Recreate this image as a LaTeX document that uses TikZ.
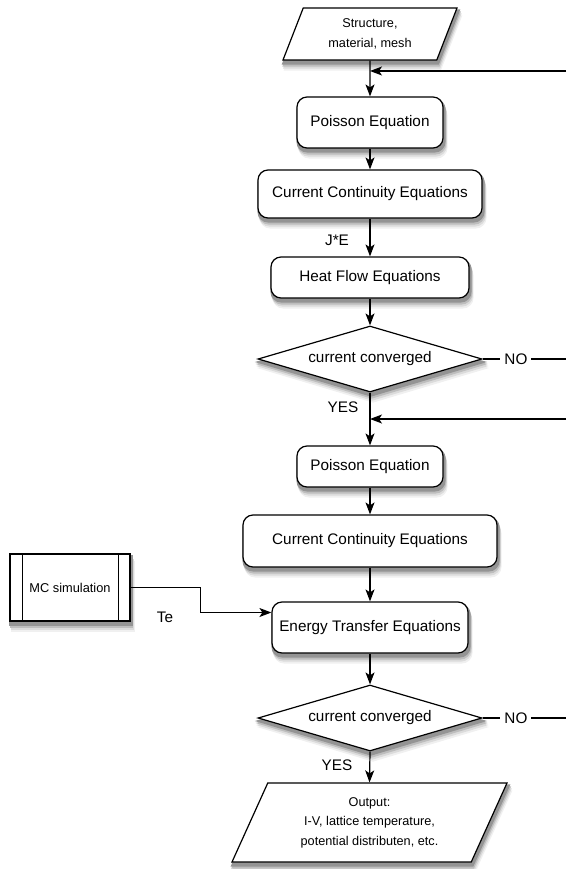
\documentclass[tikz,border=0pt]{standalone}
\usepackage{fontspec}
\setmainfont{Liberation Sans}
\usetikzlibrary{shapes.geometric,arrows.meta,backgrounds}
\tikzset
{
    process/.style  = {rectangle, rounded corners=10pt, draw=black, line width=1.2pt, fill=white, align=center, font=\fontsize{15.3}{18}\selectfont},
    decision/.style = {diamond, aspect=3.4, draw=black, line width=1.2pt, fill=white, inner sep=0pt, minimum width=224pt, minimum height=66pt, font=\fontsize{15.3}{18}\selectfont},
    io/.style       = {trapezium, trapezium stretches body, draw=black, line width=1.2pt, fill=white, align=center, inner sep=0pt, font=\fontsize{12.7}{19.5}\selectfont},
    sim/.style      = {rectangle, draw=black, line width=1.2pt, fill=white, minimum width=120pt, minimum height=67pt, font=\fontsize{12.8}{15}\selectfont},
    lbl/.style      = {inner sep=4pt, font=\fontsize{15.3}{18}\selectfont},
    flow/.style     = {line width=1.2pt, -{Stealth[length=12pt, width=9pt, inset=3pt]}},
    shadowfill/.style = {fill=black!#1, draw=black!#1, line width=2pt}
}
\begin{document}
\begin{tikzpicture}[x=1pt, y=-1pt]
\useasboundingbox (0,0) rectangle (566,869);
\node [io, trapezium left angle=56, trapezium right angle=124, minimum width=174pt, minimum height=52pt] at (370,34) (inp) {Structure,\\material, mesh};
\node [process, minimum width=146pt, minimum height=51pt] at (370,122.5) (p1) {Poisson Equation};
\node [process, minimum width=224pt, minimum height=48pt] at (370,194) (cc1) {Current Continuity Equations};
\node [process, minimum width=198pt, minimum height=41pt] at (370,277.5) (hf) {Heat Flow Equations};
\node [decision] at (370,359) (d1) {current converged};
\node [process, minimum width=146pt, minimum height=41pt] at (370,466.5) (p2) {Poisson Equation};
\node [process, minimum width=254pt, minimum height=52pt] at (370,541) (cc2) {Current Continuity Equations};
\node [process, minimum width=196pt, minimum height=51pt] at (370,627.5) (et) {Energy Transfer Equations};
\node [decision] at (370,718) (d2) {current converged};
\node [io, trapezium left angle=54.7, trapezium right angle=125.3, minimum width=275pt, minimum height=79pt] at (369.5,822.5) (out) {Output:\\I-V, lattice temperature,\\potential distributen, etc.};
\node [sim] at (70,587.5) (mc) {MC simulation};
\draw [line width=1.2pt] ([xshift=13pt]mc.north west) -- ([xshift=13pt]mc.south west);
\draw [line width=1.2pt] ([xshift=-12pt]mc.north east) -- ([xshift=-12pt]mc.south east);
\begin{scope}[on background layer]
\foreach \d/\g in {9/6,7/14,5/26,3/42}
{
    \foreach \n in {p1,cc1,hf,p2,cc2,et}
        \draw [shadowfill=\g, rounded corners=10pt] ([shift={(\d/3,\d)}]\n.north west) rectangle ([shift={(\d/3,\d)}]\n.south east);
    \draw [shadowfill=\g] ([shift={(\d/3,\d)}]mc.north west) rectangle ([shift={(\d/3,\d)}]mc.south east);
    \foreach \n in {d1,d2}
        \draw [shadowfill=\g] ([shift={(\d/3,\d)}]\n.north) -- ([shift={(\d/3,\d)}]\n.east) -- ([shift={(\d/3,\d)}]\n.south) -- ([shift={(\d/3,\d)}]\n.west) -- cycle;
    \foreach \n in {inp,out}
        \draw [shadowfill=\g] ([shift={(\d/3,\d)}]\n.bottom left corner) -- ([shift={(\d/3,\d)}]\n.top left corner) -- ([shift={(\d/3,\d)}]\n.top right corner) -- ([shift={(\d/3,\d)}]\n.bottom right corner) -- cycle;
}
\end{scope}
\node [lbl] at (337,240) (je) {J*E};
\node [lbl] at (343,407) (yes1) {YES};
\node [lbl] at (337,765) (yes2) {YES};
\node [lbl] at (165,617) (te) {Te};
\coordinate (back1) at (566,71);
\coordinate (back2) at (566,419);
\coordinate (no1) at (566,359);
\coordinate (no2) at (566,718);
\draw [flow] (inp.south) -- (p1.north);
\draw [flow] (back1) -- (back1 -| p1.north);
\draw [flow] (p1) -- (cc1);
\draw [flow] (cc1) -- (hf);
\draw [flow] (hf) -- (d1.north);
\draw [line width=1.2pt] (d1.east) -- node [lbl, pos=0.4, fill=white] {NO} (no1);
\draw [flow] (d1.south) -- (p2.north);
\draw [flow] (back2) -- (back2 -| p2.north);
\draw [flow] (p2) -- (cc2);
\draw [flow] (cc2) -- (et);
\draw [flow] (et) -- (d2.north);
\draw [line width=1.2pt] (d2.east) -- node [lbl, pos=0.4, fill=white] {NO} (no2);
\draw [flow] (d2.south) -- (out.north);
\draw [flow] (mc.east) -- ++(70,0) |- ([yshift=15pt]et.west);
\end{tikzpicture}
\end{document}
